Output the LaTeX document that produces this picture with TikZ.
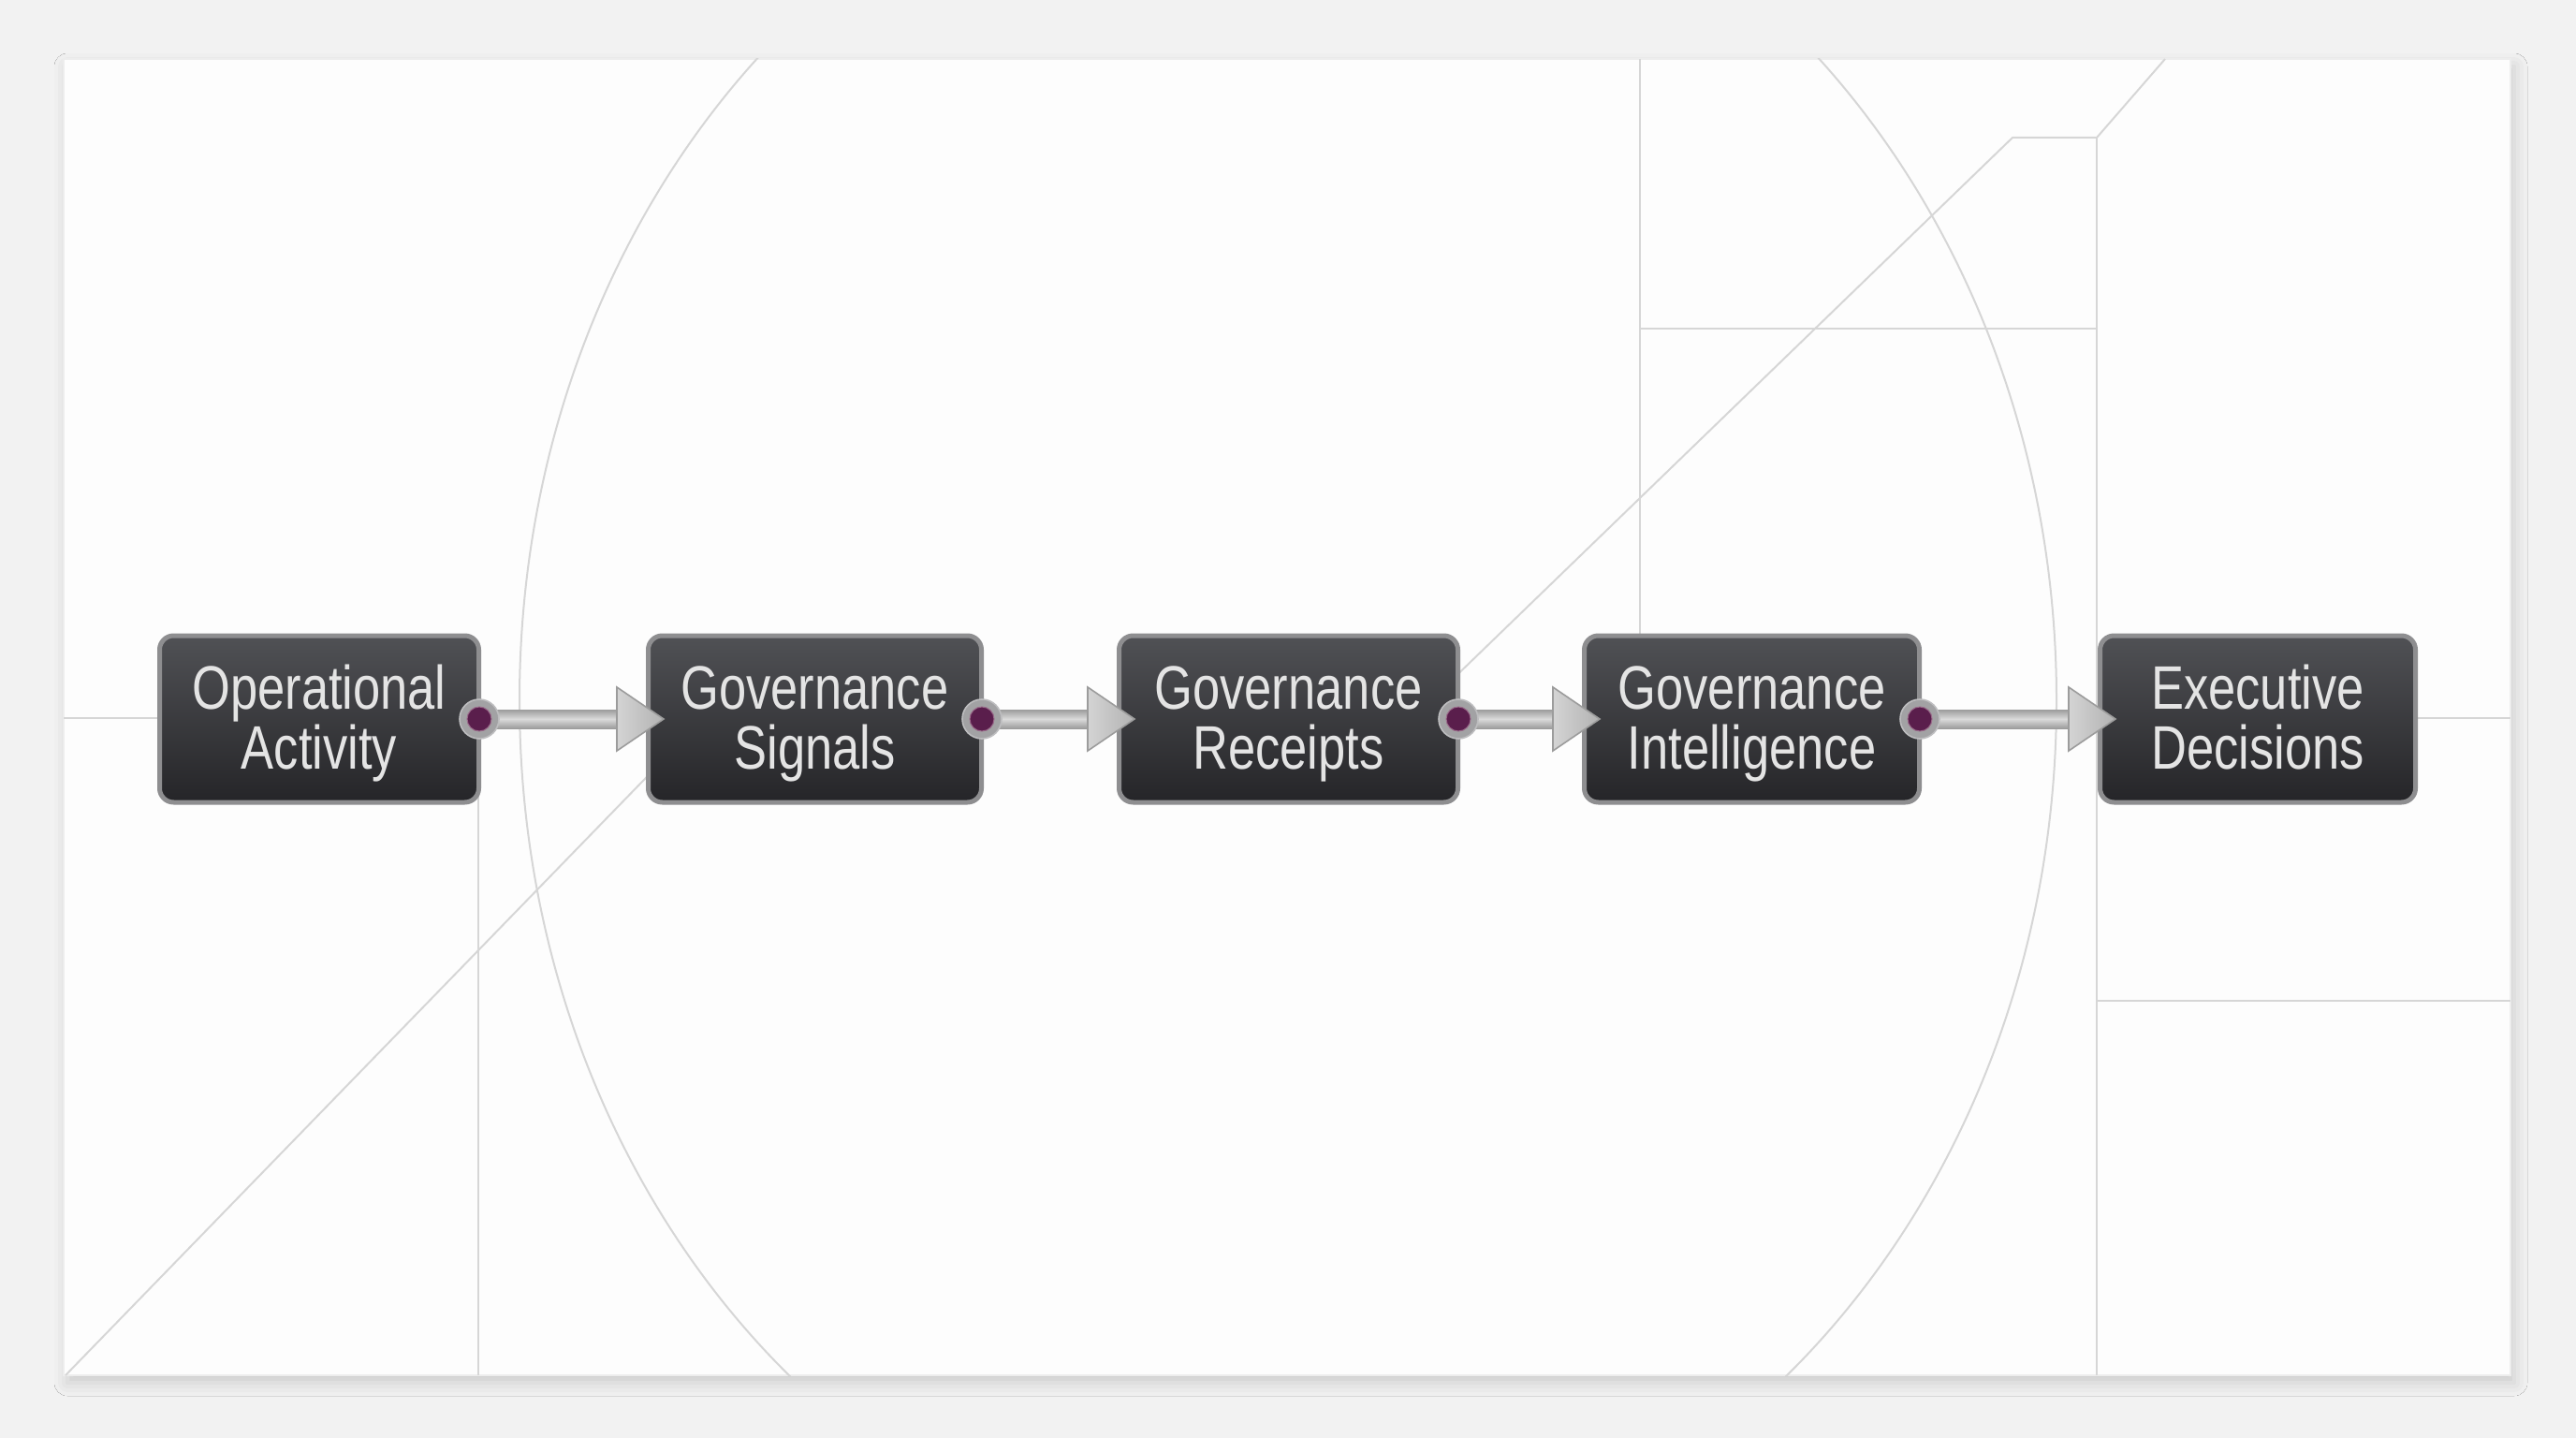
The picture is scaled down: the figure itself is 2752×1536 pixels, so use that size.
\documentclass[tikz,border=0pt]{standalone}
\usepackage{fontspec}
\newfontfamily\boxfont[FakeStretch=0.8]{Liberation Sans}
\usetikzlibrary{calc,shadows.blur}
\definecolor{bgc}{HTML}{F2F2F2}
\definecolor{cardc}{HTML}{FDFDFD}
\definecolor{guidec}{HTML}{D6D6D6}
\definecolor{boxtop}{HTML}{505155}
\definecolor{boxbot}{HTML}{252528}
\definecolor{boxedge}{HTML}{8E8E90}
\definecolor{txtc}{HTML}{E4E4E4}
\definecolor{ringc}{HTML}{A2A2A4}
\definecolor{ringedge}{HTML}{BDBDBF}
\definecolor{plum}{HTML}{5A1E4C}
\definecolor{plumedge}{HTML}{9A6A8A}
\definecolor{shaftdark}{HTML}{9C9C9C}
\definecolor{shaftlight}{HTML}{DADADA}
\definecolor{headl}{HTML}{D4D4D4}
\definecolor{headr}{HTML}{B2B2B2}
\definecolor{headedge}{HTML}{9C9C9C}
\pgfdeclarelayer{fore}
\pgfsetlayers{main,fore}
\begin{document}
\begin{tikzpicture}[x=0.5pt,y=-0.5pt,
  guide/.style={draw=guidec,line width=1pt},
  box/.style={rectangle,rounded corners=7.5pt,draw=boxedge,line width=2.5pt,
    top color=boxtop,bottom color=boxbot,minimum height=89pt,inner sep=0pt},
  lbl/.style={font=\boxfont\fontsize{32.8pt}{32pt}\selectfont,text=txtc,align=center,inner sep=0pt},
  dot/.style={circle,minimum size=21pt,inner sep=0pt,fill=ringc,draw=ringedge,line width=0.8pt,
    path picture={\filldraw[fill=plum,draw=plumedge,line width=0.5pt] (path picture bounding box.center) circle (6.5pt);}},
  shaft/.style={top color=shaftdark,bottom color=shaftdark,middle color=shaftlight},
  head/.style={left color=headl,right color=headr,draw=headedge,line width=0.8pt,line join=miter}
]
\useasboundingbox[fill=bgc] (0,0) rectangle (2752,1536);
\fill[cardc,blur shadow={shadow xshift=2pt,shadow yshift=-4pt,shadow blur radius=7pt,shadow opacity=16}] (68,63) rectangle (2682,1469);
\draw[draw=black!7,line width=0.6pt] (68,63) rectangle (2682,1469);

% background guide lines
\begin{scope}
  \clip (68,63) rectangle (2682,1469);
  \draw[guide] (1376,748) ellipse [x radius=821, y radius=948];
\end{scope}
\draw[guide] (68,767) -- (2682,767);
\draw[guide] (511,767) -- (511,1469);
\draw[guide] (70,1469) -- (720,800);
\draw[guide] (1540,737) -- (2150,147) -- (2240,147) -- (2313,63);
\draw[guide] (1752,63) -- (1752,700);
\draw[guide] (1752,351) -- (2240,351);
\draw[guide] (2240,147) -- (2240,1469);
\draw[guide] (2240,1069) -- (2682,1069);

% boxes
\node[box,minimum width=170.5pt] (b1) at (341,768) {};
\node[box,minimum width=178pt] (b2) at (870.5,768) {};
\node[box,minimum width=181pt] (b3) at (1376.5,768) {};
\node[box,minimum width=179pt] (b4) at (1871.5,768) {};
\node[box,minimum width=168.5pt] (b5) at (2412,768) {};

\node[lbl] (t1) at ($(b1.center)+(0,5)$) {\vphantom{Og}Operational\\Activity\vphantom{Og}};
\node[lbl] (t2) at ($(b2.center)+(0,5)$) {\vphantom{Og}Governance\\Signals\vphantom{Og}};
\node[lbl] (t3) at ($(b3.center)+(0,5)$) {\vphantom{Og}Governance\\Receipts\vphantom{Og}};
\node[lbl] (t4) at ($(b4.center)+(0,5)$) {\vphantom{Og}Governance\\Intelligence\vphantom{Og}};
\node[lbl] (t5) at ($(b5.center)+(0,5)$) {\vphantom{Og}Executive\\Decisions\vphantom{Og}};

% output dots
\begin{pgfonlayer}{fore}
\foreach \i in {1,2,3,4} {
  \node[dot] (d\i) at ($(b\i.east)+(-2,0)$) {};
}
\end{pgfonlayer}

% connectors
\foreach \a/\b in {1/2,2/3,3/4,4/5} {
  \shade[shaft] ($(d\a.center)+(0,-10)$) rectangle ($(b\b.west)+(-30,10)$);
  \filldraw[head] ($(b\b.west)+(19,0)$) -- ($(b\b.west)+(-31,-34)$) -- ($(b\b.west)+(-31,34)$) -- cycle;
}
\end{tikzpicture}
\end{document}
